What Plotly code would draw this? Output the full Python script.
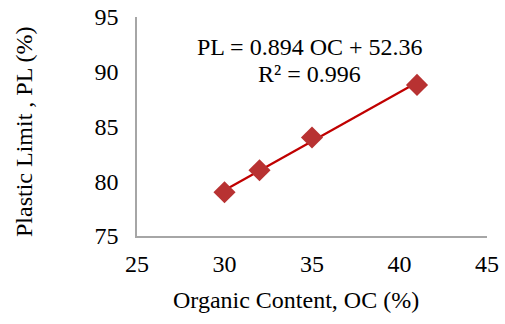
import plotly.graph_objects as go

oc = [30, 32, 35, 41]
pl = [79, 81, 84, 88.8]
slope = 0.894
intercept = 52.36
fit_x = [min(oc), max(oc)]
fit_y = [slope * v + intercept for v in fit_x]

fig = go.Figure()
fig.add_trace(go.Scatter(x=fit_x, y=fit_y, mode="lines",
                         line=dict(color="#C00000", width=2.2), showlegend=False))
fig.add_trace(go.Scatter(x=oc, y=pl, mode="markers",
                         marker=dict(symbol="diamond", size=17, color="#B83232",
                                     line=dict(width=0)), showlegend=False))

font = "Liberation Serif, Times New Roman, serif"
fs = 24
ann = dict(xref="paper", yref="paper", showarrow=False, xanchor="center", yanchor="middle",
           font=dict(family=font, size=fs, color="black"))
fig.add_annotation(x=0.494, y=0.863, text="PL = 0.894 OC + 52.36", **ann)
fig.add_annotation(x=0.494, y=0.740, text="R² = 0.996", **ann)
# axis titles
fig.add_annotation(x=(296 - 137) / 350, y=(236 - 300) / 219,
                   text="Organic Content, OC (%)", **ann)
fig.add_annotation(x=(24 - 137) / 350, y=(236 - 132) / 219,
                   text="Plastic Limit , PL (%)", textangle=-90, **ann)

fig.update_layout(
    width=505, height=324,
    margin=dict(l=137, r=18, t=17, b=88, autoexpand=False),
    plot_bgcolor="white", paper_bgcolor="white",
    font=dict(family=font, size=fs, color="black"),
    xaxis=dict(range=[25, 45], dtick=5, showgrid=False, zeroline=False,
               showline=True, linecolor="#A6A6A6", linewidth=1.5,
               ticks="outside", ticklen=5, tickcolor="rgba(0,0,0,0)",
               tickfont=dict(family=font, size=fs)),
    yaxis=dict(range=[75, 95], dtick=5, showgrid=False, zeroline=False,
               showline=True, linecolor="#A6A6A6", linewidth=1.5,
               ticks="outside", ticklen=12, tickcolor="rgba(0,0,0,0)",
               tickfont=dict(family=font, size=fs)),
)

fig.write_html("out.html", config={"displayModeBar": False},
               post_script="document.body.style.margin='0';document.body.style.overflow='hidden';")
